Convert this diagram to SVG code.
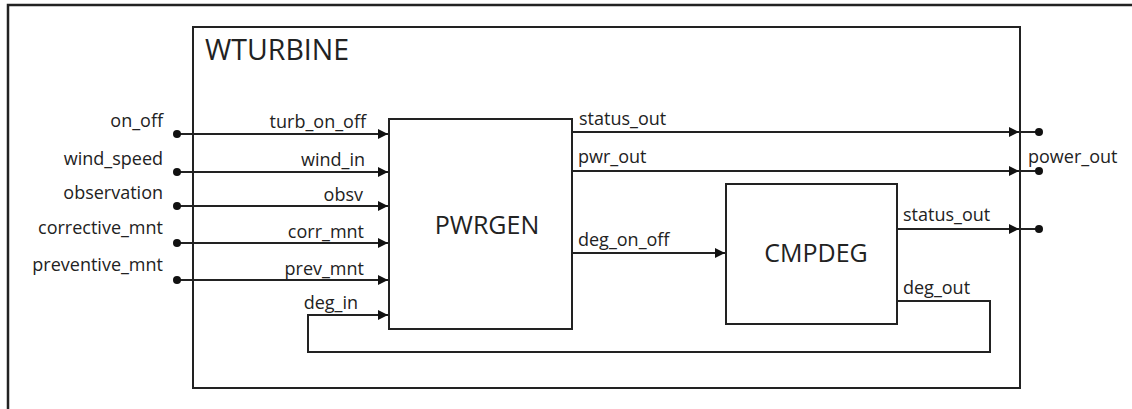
<svg xmlns="http://www.w3.org/2000/svg" width="1132" height="409" viewBox="0 0 1132 409">
<style>
.box{fill:#fff;stroke:#222;stroke-width:2}
.ln{fill:none;stroke:#222;stroke-width:2}
.dot{fill:#111}
text{font-family:"Open Sans","Noto Sans",sans-serif;fill:#222}
.lb{font-size:18px}
.r{text-anchor:end}
.big{font-size:25px}
</style>
<defs>
<marker id="ah" viewBox="0 0 10 10" refX="10" refY="5" markerWidth="10" markerHeight="10" markerUnits="userSpaceOnUse" orient="auto">
<path d="M0,0 L10,5 L0,10 z" fill="#111"/>
</marker>
</defs>
<rect width="1132" height="409" fill="#fff"/>
<path d="M8,420 L8,5 L1140,5" fill="none" stroke="#222" stroke-width="2.5"/>
<g id="wturbine">
<rect class="box" x="193" y="27" width="827" height="361"/>
<text x="205" y="60" style="font-size:28.5px">WTURBINE</text>
</g>
<g id="pwrgen">
<rect class="box" x="389" y="119" width="183" height="210"/>
<text class="big" x="487" y="234" text-anchor="middle">PWRGEN</text>
</g>
<g id="cmpdeg">
<rect class="box" x="726" y="184" width="171" height="140"/>
<text class="big" x="816" y="262" text-anchor="middle">CMPDEG</text>
</g>
<g id="connectors">
<path class="ln" d="M177,134 H388" marker-end="url(#ah)"/>
<path class="ln" d="M177,172 H388" marker-end="url(#ah)"/>
<path class="ln" d="M177,206 H388" marker-end="url(#ah)"/>
<path class="ln" d="M177,243 H388" marker-end="url(#ah)"/>
<path class="ln" d="M177,280 H388" marker-end="url(#ah)"/>
<path class="ln" d="M897,301 H990 V352 H308 V315 H388" marker-end="url(#ah)"/>
<path class="ln" d="M572,132 H1019" marker-end="url(#ah)"/>
<path class="ln" d="M572,171 H1019" marker-end="url(#ah)"/>
<path class="ln" d="M572,253 H725" marker-end="url(#ah)"/>
<path class="ln" d="M897,229 H1019" marker-end="url(#ah)"/>
<path class="ln" d="M1020,132 H1039 M1020,171 H1039 M1020,229 H1039"/>
<circle class="dot" cx="177" cy="134" r="4"/>
<circle class="dot" cx="177" cy="172" r="4"/>
<circle class="dot" cx="177" cy="206" r="4"/>
<circle class="dot" cx="177" cy="243" r="4"/>
<circle class="dot" cx="177" cy="280" r="4"/>
<circle class="dot" cx="1039" cy="132" r="4"/>
<circle class="dot" cx="1039" cy="171" r="4"/>
<circle class="dot" cx="1039" cy="229" r="4"/>
</g>
<g id="labels">
<text class="lb r" x="163" y="127">on_off</text>
<text class="lb r" x="163" y="165">wind_speed</text>
<text class="lb r" x="163" y="199">observation</text>
<text class="lb r" x="163" y="234">corrective_mnt</text>
<text class="lb r" x="163" y="271">preventive_mnt</text>
<text class="lb r" x="366" y="128">turb_on_off</text>
<text class="lb r" x="365" y="166">wind_in</text>
<text class="lb r" x="363" y="201">obsv</text>
<text class="lb r" x="364" y="238">corr_mnt</text>
<text class="lb r" x="364" y="275">prev_mnt</text>
<text class="lb r" x="358" y="309">deg_in</text>
<text class="lb" x="579" y="125">status_out</text>
<text class="lb" x="578" y="163">pwr_out</text>
<text class="lb" x="578" y="246">deg_on_off</text>
<text class="lb" x="903" y="221">status_out</text>
<text class="lb" x="903" y="294">deg_out</text>
<text class="lb" x="1028" y="163">power_out</text>
</g>
</svg>
